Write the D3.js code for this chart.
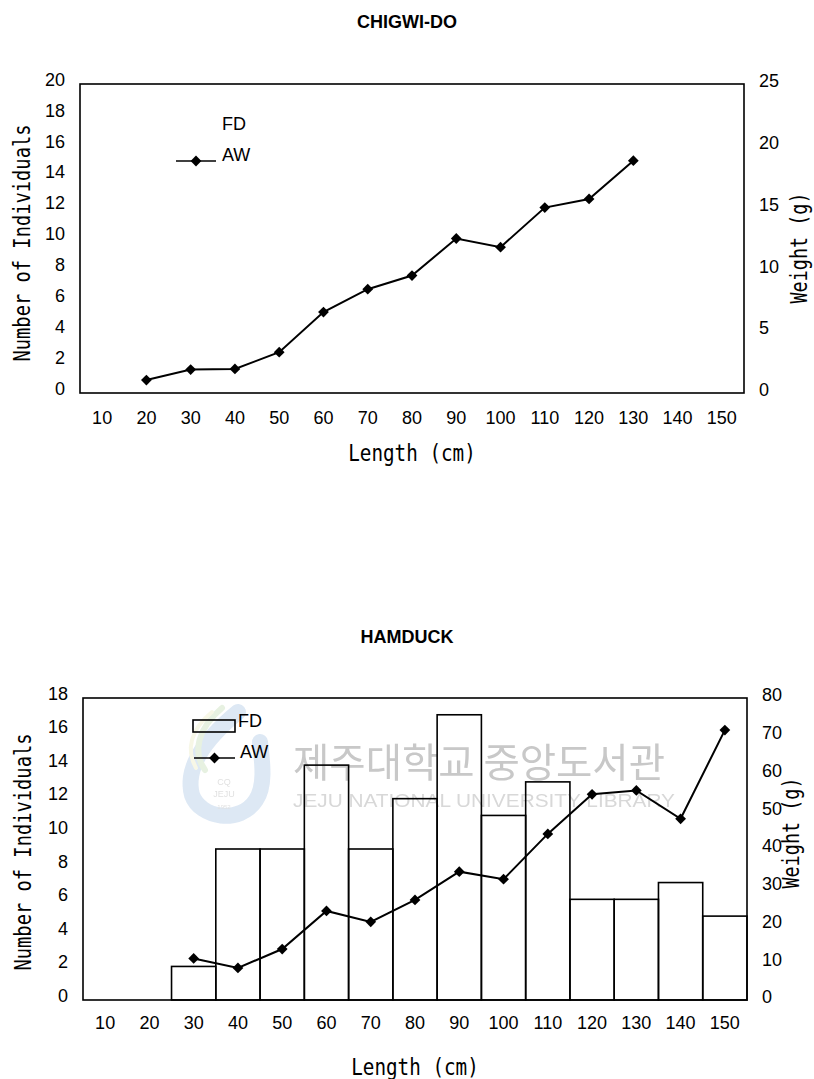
<!DOCTYPE html>
<html>
<head>
<meta charset="utf-8">
<script src="https://cdn.jsdelivr.net/npm/d3@7"></script>
<style>
  html, body { margin: 0; padding: 0; background: #fff; }
  svg { display: block; }
  .tick text { font-family: "Liberation Sans", Arial, sans-serif; font-size: 18px; fill: #000; }
  .title { font-family: "Liberation Sans", Arial, sans-serif; font-size: 18px; font-weight: bold; }
  .axis-title { font-family: "DejaVu Sans Mono", monospace; font-size: 23px; }
  .legend-text { font-family: "Liberation Sans", Arial, sans-serif; font-size: 18px; }
</style>
</head>
<body>
<svg id="chart" width="814" height="1079"></svg>
<script>
// length classes (cm)
const lengths = [10, 20, 30, 40, 50, 60, 70, 80, 90, 100, 110, 120, 130, 140, 150];

// CHIGWI-DO: no FD bars drawn, only average weight
const chigwiFD = [];
const chigwiAW = [null, 1.05, 1.9, 1.95, 3.3, 6.55, 8.4, 9.5, 12.5, 11.8, 15.0, 15.7, 18.8, null, null];

// HAMDUCK
const hamduckFD = [0, 0, 2, 9, 9, 14, 9, 12, 17, 11, 13, 6, 6, 7, 5];
const hamduckAW = [null, null, 11, 8.5, 13.5, 23.6, 20.7, 26.5, 34, 32, 44, 54.5, 55.5, 48, 71.5];

const leftTicksTop = [0, 2, 4, 6, 8, 10, 12, 14, 16, 18, 20];
const rightTicksTop = [0, 5, 10, 15, 20, 25];
const leftTicksBottom = [0, 2, 4, 6, 8, 10, 12, 14, 16, 18];
const rightTicksBottom = [0, 10, 20, 30, 40, 50, 60, 70, 80];

const svg = d3.select("#chart");

function drawPanel(o) {
    const g = svg.append("g");
    const x = d3.scaleBand().domain(lengths).range([o.left, o.right]).padding(0);
    const yL = d3.scaleLinear().domain([0, d3.max(o.leftTicks)]).range([o.bottom, o.top]);
    const yR = d3.scaleLinear().domain([0, d3.max(o.rightTicks)]).range([o.bottom, o.top]);

    // title
    g.append("text").attr("class", "title")
        .attr("x", 407).attr("y", o.titleY)
        .attr("text-anchor", "middle").attr("dy", "0.35em")
        .text(o.title);

    // bars
    const bars = lengths.map((l, i) => ({l: l, v: o.fd[i]})).filter(d => d.v != null && o.fd.length);
    g.append("g").selectAll("rect")
        .data(bars)
        .join("rect")
            .attr("x", d => x(d.l))
            .attr("y", d => yL(d.v))
            .attr("width", x.bandwidth())
            .attr("height", d => o.bottom - yL(d.v))
            .attr("fill", "none")
            .attr("stroke", "#000")
            .attr("stroke-width", 1.6);

    // frame
    g.append("rect")
        .attr("x", o.left).attr("y", o.top)
        .attr("width", o.right - o.left).attr("height", o.bottom - o.top)
        .attr("fill", "none").attr("stroke", "#000").attr("stroke-width", 1.6);

    // axes
    const gL = g.append("g").attr("transform", `translate(${o.left},0)`)
        .call(d3.axisLeft(yL).tickValues(o.leftTicks).tickSize(0).tickPadding(15));
    gL.select(".domain").remove();
    gL.selectAll("text").attr("y", -4.5);

    const gR = g.append("g").attr("transform", `translate(${o.right},0)`)
        .call(d3.axisRight(yR).tickValues(o.rightTicks).tickSize(0).tickPadding(15));
    gR.select(".domain").remove();
    gR.selectAll("text").attr("y", -3);

    const gX = g.append("g").attr("transform", `translate(0,${o.bottom})`)
        .call(d3.axisBottom(x).tickSize(0));
    gX.select(".domain").remove();
    gX.selectAll("text").attr("y", o.xLabelOffset).attr("dy", "0.35em");

    // axis titles
    const xt = "Length (cm)";
    g.append("text").attr("class", "axis-title")
        .attr("x", (o.left + o.right) / 2).attr("y", o.xTitleY)
        .attr("text-anchor", "middle")
        .attr("textLength", xt.length * 11.6).attr("lengthAdjust", "spacingAndGlyphs")
        .text(xt);
    const lt = "Number of Individuals";
    g.append("text").attr("class", "axis-title")
        .attr("transform", `translate(${o.leftTitle[0]},${o.leftTitle[1]}) rotate(-90)`)
        .attr("text-anchor", "middle").attr("dy", "0.36em")
        .attr("textLength", 237).attr("lengthAdjust", "spacingAndGlyphs")
        .text(lt);
    const rt = "Weight (g)";
    g.append("text").attr("class", "axis-title")
        .attr("transform", `translate(${o.rightTitle[0]},${o.rightTitle[1]}) rotate(-90)`)
        .attr("text-anchor", "middle").attr("dy", "0.36em")
        .attr("textLength", 111).attr("lengthAdjust", "spacingAndGlyphs")
        .text(rt);

    // AW line
    const pts = lengths.map((l, i) => ({l: l, v: o.aw[i]})).filter(d => d.v != null);
    const line = d3.line()
        .x(d => x(d.l) + x.bandwidth() / 2)
        .y(d => yR(d.v));
    g.append("path")
        .attr("d", line(pts))
        .attr("fill", "none").attr("stroke", "#000").attr("stroke-width", 2);
    const diamond = d3.symbol(d3.symbolSquare, 58);
    g.append("g").selectAll("path")
        .data(pts)
        .join("path")
            .attr("d", diamond)
            .attr("transform", d => `translate(${x(d.l) + x.bandwidth() / 2},${yR(d.v)}) rotate(45)`)
            .attr("fill", "#000");

    // legend
    const lg = o.legend;
    if (lg.box) {
        g.append("rect")
            .attr("x", lg.box[0]).attr("y", lg.box[1])
            .attr("width", lg.box[2]).attr("height", lg.box[3])
            .attr("fill", "none").attr("stroke", "#000").attr("stroke-width", 1.6);
    }
    g.append("text").attr("class", "legend-text")
        .attr("x", lg.fd[0]).attr("y", lg.fd[1]).attr("dy", "0.35em").text("FD");
    g.append("line")
        .attr("x1", lg.line[0]).attr("x2", lg.line[1])
        .attr("y1", lg.line[2]).attr("y2", lg.line[2])
        .attr("stroke", "#000").attr("stroke-width", 1.6);
    g.append("path")
        .attr("d", diamond)
        .attr("transform", `translate(${(lg.line[0] + lg.line[1]) / 2},${lg.line[2]}) rotate(45)`)
        .attr("fill", "#000");
    g.append("text").attr("class", "legend-text")
        .attr("x", lg.aw[0]).attr("y", lg.aw[1]).attr("dy", "0.35em").text("AW");
    return g;
}

drawPanel({
    title: "CHIGWI-DO", titleY: 22,
    left: 80, right: 744, top: 84, bottom: 393,
    leftTicks: leftTicksTop, rightTicks: rightTicksTop,
    fd: chigwiFD, aw: chigwiAW,
    xLabelOffset: 25, xTitleY: 461,
    leftTitle: [22, 243], rightTitle: [799, 248],
    legend: {fd: [222, 124], aw: [222, 155], line: [176, 216, 161]}
});

drawPanel({
    title: "HAMDUCK", titleY: 637,
    left: 83, right: 747, top: 698, bottom: 1000,
    leftTicks: leftTicksBottom, rightTicks: rightTicksBottom,
    fd: hamduckFD, aw: hamduckAW,
    xLabelOffset: 23, xTitleY: 1075,
    leftTitle: [23, 852], rightTitle: [791, 833],
    legend: {box: [193, 720, 42, 12], fd: [238, 721], aw: [240, 752], line: [194, 235, 758]}
});

// library watermark (faint, drawn over the lower panel)
const wm = svg.append("g").style("mix-blend-mode", "multiply");
const logo = wm.append("g").attr("opacity", 0.35);
logo.append("path")
    .attr("d", "M238,712 C210,735 184,765 192,795 C200,818 240,825 256,800 C266,785 262,760 260,742")
    .attr("fill", "none").attr("stroke", "#9dbde0").attr("stroke-width", 16).attr("stroke-linecap", "round");
logo.append("path")
    .attr("d", "M222,708 C198,728 192,752 205,770")
    .attr("fill", "none").attr("stroke", "#b9d8a8").attr("stroke-width", 6).attr("stroke-linecap", "round");
logo.append("path")
    .attr("d", "M212,712 C190,730 186,750 196,768")
    .attr("fill", "none").attr("stroke", "#e8e8b8").attr("stroke-width", 4).attr("stroke-linecap", "round");
logo.selectAll("text")
    .data(["CQ", "JEJU", "1952"])
    .join("text")
        .attr("x", 224).attr("y", (d, i) => 785 + i * 12)
        .attr("text-anchor", "middle")
        .attr("font-family", "Liberation Sans, Arial, sans-serif")
        .attr("font-size", (d, i) => i === 2 ? 6 : 9)
        .attr("fill", "#a8a8a8")
        .text(d => d);
wm.append("text")
    .attr("x", 293).attr("y", 777)
    .attr("font-family", "Noto Sans CJK KR, sans-serif")
    .attr("font-size", 40)
    .attr("textLength", 372).attr("lengthAdjust", "spacingAndGlyphs")
    .attr("fill", "#c8c8c8")
    .text("제주대학교 중앙도서관");
wm.append("text")
    .attr("x", 293).attr("y", 807)
    .attr("font-family", "Liberation Sans, Arial, sans-serif")
    .attr("font-size", 19)
    .attr("textLength", 382).attr("lengthAdjust", "spacingAndGlyphs")
    .attr("fill", "#d8d8d8")
    .text("JEJU NATIONAL UNIVERSITY LIBRARY");
</script>
</body>
</html>
